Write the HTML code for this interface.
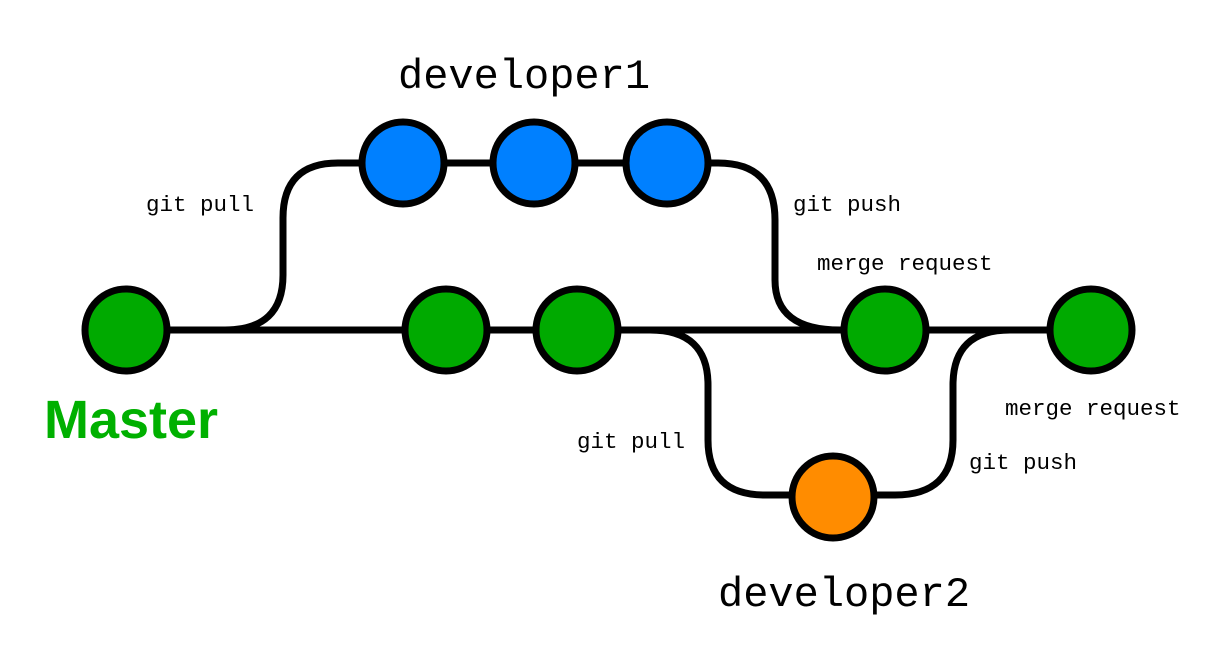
<!DOCTYPE html>
<html><head><meta charset="utf-8"><style>
html,body{margin:0;padding:0;background:#fff;}
svg{display:block}
.l{font-family:"Liberation Mono",monospace;font-size:22.5px;fill:#000}
.t{font-family:"Liberation Mono",monospace;font-size:42px;fill:#000}
</style></head><body>
<svg width="1210" height="650" viewBox="0 0 1210 650">
<g fill="none" stroke="#000" stroke-width="7">
<path d="M126,330 H1091"/>
<path d="M225,330 Q283,330 283,275 V218 Q283,163 338,163 H667"/>
<path d="M667,163 H718 Q775,163 775,220 V280 Q775,330 840,330"/>
<path d="M620,330 H650 Q708,330 708,385 V440 Q708,495 765,495 H831"/>
<path d="M831,495 H895 Q953,495 953,440 V385 Q953,330 1010,330"/>
</g>
<g stroke="#000" stroke-width="7">
<circle cx="126" cy="330" r="41" fill="#00aa00"/>
<circle cx="446" cy="330" r="41" fill="#00aa00"/>
<circle cx="577" cy="330" r="41" fill="#00aa00"/>
<circle cx="885" cy="330" r="41" fill="#00aa00"/>
<circle cx="1091" cy="330" r="41" fill="#00aa00"/>
<circle cx="403" cy="163" r="41" fill="#0080ff"/>
<circle cx="534" cy="163" r="41" fill="#0080ff"/>
<circle cx="667" cy="163" r="41" fill="#0080ff"/>
<circle cx="833" cy="497" r="41" fill="#ff8c00"/>
</g>
<text class="t" x="398" y="88">developer1</text>
<text class="t" x="718" y="606">developer2</text>
<text x="44" y="438" font-family="Liberation Sans,sans-serif" font-weight="bold" font-size="54" fill="#00b000">Master</text>
<text class="l" x="146" y="211">git pull</text>
<text class="l" x="793" y="211">git push</text>
<text class="l" x="817" y="270">merge request</text>
<text class="l" x="577" y="448">git pull</text>
<text class="l" x="1005" y="415">merge request</text>
<text class="l" x="969" y="469">git push</text>
</svg>
</body></html>
